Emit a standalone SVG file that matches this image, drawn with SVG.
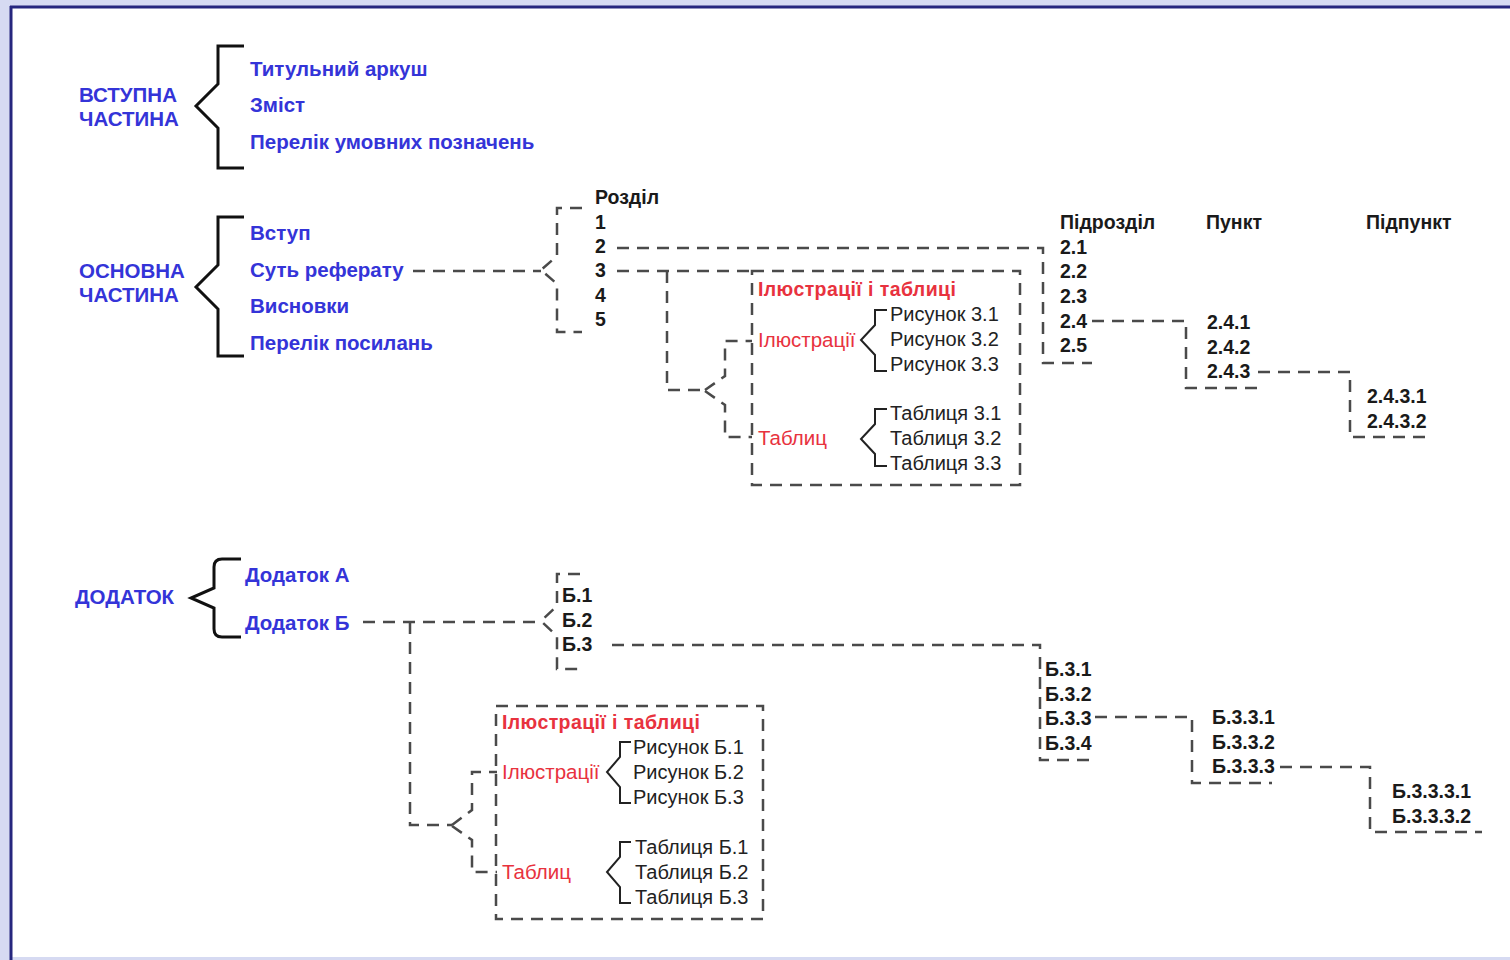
<svg xmlns="http://www.w3.org/2000/svg" width="1510" height="960" viewBox="0 0 1510 960">
  <style>
    text { font-family: "Liberation Sans", Arial, sans-serif; }
    .blue { fill: #3434d8; font-size: 20.5px; font-weight: bold; }
    .num { fill: #1a1a1a; font-size: 19.5px; font-weight: bold; }
    .reg { fill: #222222; font-size: 20px; }
    .redb { fill: #e8323e; font-size: 19.5px; font-weight: bold; letter-spacing: 0.4px; }
    .red { fill: #e8323e; font-size: 20.5px; }
    .dash { fill: none; stroke: #4a4a4a; stroke-width: 2.5; stroke-dasharray: 12 8; }
    .brace { fill: none; stroke: #111111; stroke-width: 3; stroke-linejoin: miter; }
    .sbrace { fill: none; stroke: #222222; stroke-width: 2; }
  </style>

  <!-- page frame -->
  <rect x="0" y="0" width="1510" height="960" fill="#d6daf2"/>
  <rect x="12" y="8" width="1498" height="949" fill="#ffffff"/>
  <line x1="10" y1="7" x2="1510" y2="7" stroke="#26267e" stroke-width="3"/>
  <line x1="11" y1="6" x2="11" y2="960" stroke="#26267e" stroke-width="3"/>

  <!-- connectors -->
  <g id="connectors">
    <!-- Суть реферату -> Розділ -->
    <path class="dash" d="M413,271 H541"/>
    <path class="dash" d="M582,208 H557 V256 L541,270 L557,284 V332 H582"/>
    <!-- Розділ 2 -> Підрозділ -->
    <path class="dash" d="M617,248 H1043 V363 H1092"/>
    <!-- Розділ 3 -> ілюстрації і таблиці -->
    <path class="dash" d="M617,271 H752"/>
    <path class="dash" d="M667,271 V390 H705"/>
    <path class="dash" d="M705,390 L725,376 V341 H752"/>
    <path class="dash" d="M705,391 L725,405 V437 H752"/>
    <!-- 2.4 -> Пункт -->
    <path class="dash" d="M1092,321 H1186 V388 H1258"/>
    <!-- 2.4.3 -> Підпункт -->
    <path class="dash" d="M1258,372 H1350 V437 H1433"/>

    <!-- Додаток Б -> Б.x -->
    <path class="dash" d="M363,622 H541"/>
    <path class="dash" d="M580,574 H557 V606 L541,621 L557,636 V669 H580"/>
    <path class="dash" d="M410,622 V825 H452"/>
    <path class="dash" d="M452,825 L472,810 V772 H497"/>
    <path class="dash" d="M452,826 L472,840 V872 H497"/>
    <!-- Б.3 -> Б.3.x -->
    <path class="dash" d="M612,645 H1040 V760 H1090"/>
    <!-- Б.3.3 -> Б.3.3.x -->
    <path class="dash" d="M1095,717 H1192 V783 H1272"/>
    <!-- Б.3.3.3 -> Б.3.3.3.x -->
    <path class="dash" d="M1280,767 H1370 V832 H1482"/>
  </g>

  <!-- ВСТУПНА ЧАСТИНА -->
  <g id="intro">
    <text class="blue" x="79" y="102">ВСТУПНА</text>
    <text class="blue" x="79" y="126">ЧАСТИНА</text>
    <path class="brace" d="M244,46 H218 V84 L196,106 L218,128 V168 H244"/>
    <text class="blue" x="250" y="76">Титульний аркуш</text>
    <text class="blue" x="250" y="112">Зміст</text>
    <text class="blue" x="250" y="149">Перелік умовних позначень</text>
  </g>

  <!-- ОСНОВНА ЧАСТИНА -->
  <g id="main">
    <text class="blue" x="79" y="278">ОСНОВНА</text>
    <text class="blue" x="79" y="302">ЧАСТИНА</text>
    <path class="brace" d="M244,217 H218 V265 L196,287 L218,309 V356 H244"/>
    <text class="blue" x="250" y="240">Вступ</text>
    <text class="blue" x="250" y="277">Суть реферату</text>
    <text class="blue" x="250" y="313">Висновки</text>
    <text class="blue" x="250" y="350">Перелік посилань</text>
  </g>

  <!-- Розділ -->
  <g id="rozdil">
    <text class="num" x="595" y="204">Розділ</text>
    <text class="num" x="595" y="229">1</text>
    <text class="num" x="595" y="253">2</text>
    <text class="num" x="595" y="277">3</text>
    <text class="num" x="595" y="302">4</text>
    <text class="num" x="595" y="326">5</text>
  </g>

  <!-- Ілюстрації і таблиці (розділ 3) -->
  <g id="illustrations-3">
    <rect class="dash" x="752" y="271" width="268" height="214"/>
    <text class="redb" x="758" y="296">Ілюстрації і таблиці</text>
    <text class="red" x="758" y="347">Ілюстрації</text>
    <text class="red" x="758" y="445">Таблиц</text>
    <path class="sbrace" d="M887,310 H875 V325 L861,340 L875,355 V371 H887"/>
    <text class="reg" x="890" y="321">Рисунок 3.1</text>
    <text class="reg" x="890" y="346">Рисунок 3.2</text>
    <text class="reg" x="890" y="371">Рисунок 3.3</text>
    <path class="sbrace" d="M887,409 H875 V424 L861,439 L875,454 V466 H887"/>
    <text class="reg" x="890" y="420">Таблиця 3.1</text>
    <text class="reg" x="890" y="445">Таблиця 3.2</text>
    <text class="reg" x="890" y="470">Таблиця 3.3</text>
  </g>

  <!-- Підрозділ -->
  <g id="pidrozdil">
    <text class="num" x="1060" y="229">Підрозділ</text>
    <text class="num" x="1060" y="254">2.1</text>
    <text class="num" x="1060" y="278">2.2</text>
    <text class="num" x="1060" y="303">2.3</text>
    <text class="num" x="1060" y="328">2.4</text>
    <text class="num" x="1060" y="352">2.5</text>
  </g>

  <!-- Пункт -->
  <g id="punkt">
    <text class="num" x="1206" y="229">Пункт</text>
    <text class="num" x="1207" y="329">2.4.1</text>
    <text class="num" x="1207" y="354">2.4.2</text>
    <text class="num" x="1207" y="378">2.4.3</text>
  </g>

  <!-- Підпункт -->
  <g id="pidpunkt">
    <text class="num" x="1366" y="229">Підпункт</text>
    <text class="num" x="1367" y="403">2.4.3.1</text>
    <text class="num" x="1367" y="428">2.4.3.2</text>
  </g>

  <!-- ДОДАТОК -->
  <g id="appendix">
    <text class="blue" x="75" y="604">ДОДАТОК</text>
    <path class="brace" d="M241,559 H222 Q214,559 214,567 V588 L191,598 L214,608 V629 Q214,637 222,637 H241"/>
    <text class="blue" x="245" y="582">Додаток А</text>
    <text class="blue" x="245" y="630">Додаток Б</text>
  </g>

  <!-- Б.1 – Б.3 -->
  <g id="appendix-b">
    <text class="num" x="562" y="602">Б.1</text>
    <text class="num" x="562" y="627">Б.2</text>
    <text class="num" x="562" y="651">Б.3</text>
  </g>

  <!-- Ілюстрації і таблиці (додаток Б) -->
  <g id="illustrations-b">
    <rect class="dash" x="496" y="706" width="267" height="213"/>
    <text class="redb" x="502" y="729">Ілюстрації і таблиці</text>
    <text class="red" x="502" y="779">Ілюстрації</text>
    <text class="red" x="502" y="879">Таблиц</text>
    <path class="sbrace" d="M631,742 H620 V757 L607,772 L620,787 V803 H631"/>
    <text class="reg" x="633" y="754">Рисунок Б.1</text>
    <text class="reg" x="633" y="779">Рисунок Б.2</text>
    <text class="reg" x="633" y="804">Рисунок Б.3</text>
    <path class="sbrace" d="M631,842 H620 V857 L607,872 L620,887 V903 H631"/>
    <text class="reg" x="635" y="854">Таблиця Б.1</text>
    <text class="reg" x="635" y="879">Таблиця Б.2</text>
    <text class="reg" x="635" y="904">Таблиця Б.3</text>
  </g>

  <!-- Б.3.x -->
  <g id="b3">
    <text class="num" x="1045" y="676">Б.3.1</text>
    <text class="num" x="1045" y="701">Б.3.2</text>
    <text class="num" x="1045" y="725">Б.3.3</text>
    <text class="num" x="1045" y="750">Б.3.4</text>
  </g>

  <!-- Б.3.3.x -->
  <g id="b33">
    <text class="num" x="1212" y="724">Б.3.3.1</text>
    <text class="num" x="1212" y="749">Б.3.3.2</text>
    <text class="num" x="1212" y="773">Б.3.3.3</text>
  </g>

  <!-- Б.3.3.3.x -->
  <g id="b333">
    <text class="num" x="1392" y="798">Б.3.3.3.1</text>
    <text class="num" x="1392" y="823">Б.3.3.3.2</text>
  </g>
</svg>
